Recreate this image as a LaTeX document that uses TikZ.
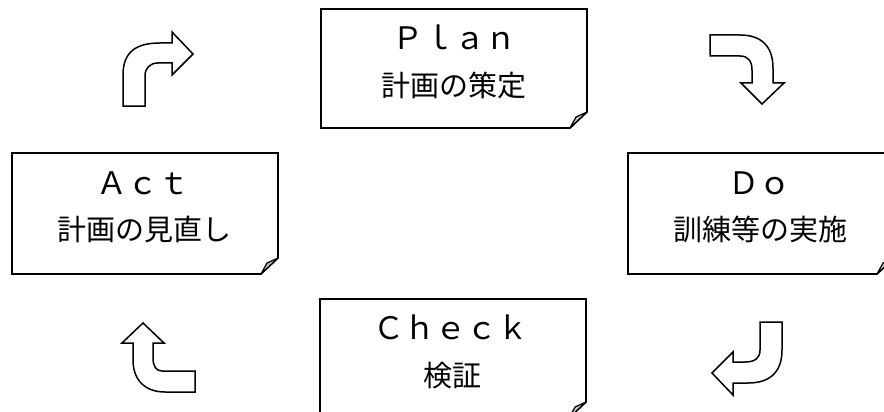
\documentclass[tikz,border=0pt]{standalone}
\usepackage{fontspec}
\newfontfamily\jpfont{Noto Sans CJK JP}
\tikzset{
  boxline/.style={draw=black, line width=1.6pt, fill=white, line join=miter},
  flap/.style={draw=black, line width=1.2pt, fill=black!25, line join=round},
  bentarrow/.style={draw=black, line width=1.5pt, fill=white, line join=miter},
  lbl/.style={font=\jpfont\fontsize{29}{31}\selectfont, anchor=base, inner sep=0pt, text=black},
  latin/.style={font=\jpfont\fontsize{31}{33}\selectfont, anchor=base, inner sep=0pt, text=black}
}
\newcommand\notebox[4]{%
  \draw[boxline] (#1,#2) -- (#3,#2) -- (#3,#4-16) -- (#3-17,#4) -- (#1,#4) -- cycle;
  \filldraw[flap] (#3-17,#4) -- (#3-11,#4-11) -- (#3,#4-16) -- cycle;}
\begin{document}
\begin{tikzpicture}[x=1pt,y=-1pt]
\useasboundingbox (0,0) rectangle (884,412);
\clip (0,0) rectangle (884,412);
\fill[white] (0,0) rectangle (884,412);
% boxes
\notebox{321}{9}{587}{128}
\notebox{12}{153}{278}{274}
\notebox{628}{153}{894}{274}
\notebox{320}{299}{586}{418}
% texts
\node[latin] (planA) at (454,50) {Ｐｌａｎ};
\node[lbl] (planB) at (454,96) {計画の策定};
\node[latin] (actA) at (143,194) {Ａｃｔ};
\node[lbl] (actB) at (144,240) {計画の見直し};
\node[latin] (doA) at (759,194) {Ｄｏ};
\node[lbl] (doB) at (760,240) {訓練等の実施};
\node[latin] (checkA) at (451,339) {Ｃｈｅｃｋ};
\node[lbl] (checkB) at (452,386) {検証};
% bent arrows
% top-left (up then right)
\draw[bentarrow] (123,106) -- (123,75) .. controls (123,52) and (136,43) .. (160,43) -- (172,43) -- (172,32) -- (193,54) -- (172,75) -- (172,63) -- (158,63) .. controls (150,63) and (145,68) .. (145,76) -- (145,106) -- cycle;
% top-right (right then down)
\draw[bentarrow] (710,35) -- (740,35) .. controls (762,35) and (773,47) .. (773,68) -- (773,83) -- (784,83) -- (762,104) -- (741,83) -- (752,83) -- (752,70) .. controls (752,61) and (748,56) .. (740,56) -- (710,56) -- cycle;
% bottom-right (down then left)
\draw[bentarrow] (760,322) -- (782,322) -- (782,350) .. controls (782,372) and (770,383) .. (748,383) -- (733,383) -- (733,395) -- (712,373) -- (733,352) -- (733,362) -- (745,362) .. controls (755,362) and (760,358) .. (760,350) -- cycle;
% bottom-left (left then up)
\draw[bentarrow] (195,371) -- (162,371) .. controls (156,371) and (153,366) .. (153,358) -- (153,343) -- (164,343) -- (143,323) -- (122,343) -- (133,343) -- (133,360) .. controls (133,380) and (145,392) .. (165,392) -- (195,392) -- cycle;
\end{tikzpicture}
\end{document}
